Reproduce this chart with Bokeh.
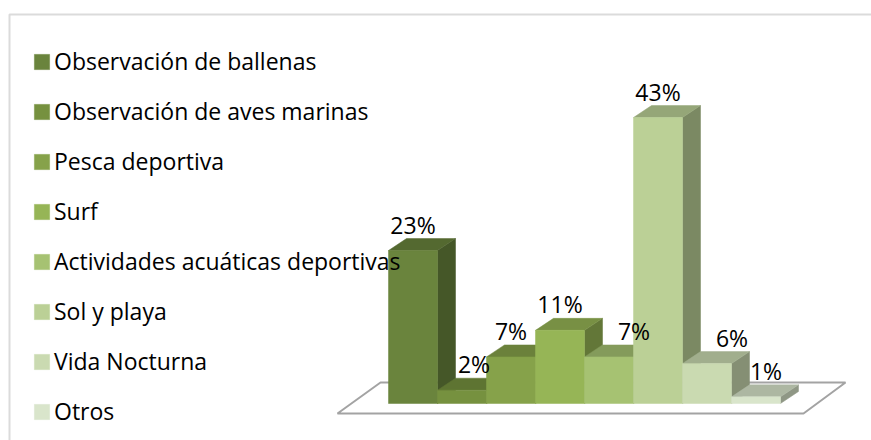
from bokeh.plotting import figure
from bokeh.models import Range1d, Legend, LegendItem, BoxAnnotation, ColumnDataSource
from bokeh.embed import file_html
from bokeh.resources import INLINE
from bokeh.core.properties import value

# ---- data ----
categories = ["Observación de ballenas", "Observación de aves marinas", "Pesca deportiva",
              "Surf", "Actividades acuáticas deportivas", "Sol y playa", "Vida Nocturna", "Otros"]
percentages = [23, 2, 7, 11, 7, 43, 6, 1]
labels = ["23%", "2%", "7%", "11%", "7%", "43%", "6%", "1%"]
front_colors = ["#6a843d", "#76913f", "#86a24a", "#96b556", "#a6c272", "#bbd096", "#cadab1", "#d9e5cb"]

# ---- geometry / style ----
W, H = 871, 440
PX_X = 49.0        # pixels per bar
PX_Y = 6.65        # pixels per percent
X0 = 388.0         # px of first bar
BASE = 37.0        # px of bar base from bottom
DX = 18.0 / PX_X   # depth offset (bar units)
DY = 12.0 / PX_Y   # depth offset (percent units)
label_nudge_px = [0, 12, 0, 0, 25, 0, 25, 10]
FONT = "Open Sans"
FS = "23px"


def shade(hexcol, f):
    h = hexcol.lstrip("#")
    r, g, b = (int(h[i:i + 2], 16) for i in (0, 2, 4))
    return "#%02x%02x%02x" % (int(r * f), int(g * f), int(b * f))


p = figure(width=W, height=H, output_backend="svg", toolbar_location=None,
           x_range=Range1d(-X0 / PX_X, (W - X0) / PX_X),
           y_range=Range1d(-BASE / PX_Y, (H - BASE) / PX_Y),
           min_border=0, outline_line_color=None)
p.axis.visible = False
p.grid.visible = False
p.background_fill_color = "white"
p.border_fill_color = "white"

n = len(percentages)

# floor
fl_front_y = -10.0 / PX_Y
fl_back_y = 21.0 / PX_Y
p.patch([-51.0 / PX_X, n + 23.0 / PX_X, n + 65.0 / PX_X, -8.0 / PX_X],
        [fl_front_y, fl_front_y, fl_back_y, fl_back_y],
        fill_color="white", line_color="#a3a3a3", line_width=2)

# faces
side_xs, side_ys, side_c = [], [], []
top_xs, top_ys, top_c = [], [], []
for i, v in enumerate(percentages):
    side_xs.append([i + 1, i + 1 + DX, i + 1 + DX, i + 1])
    side_ys.append([0, DY, v + DY, v])
    side_c.append(shade(front_colors[i], 0.66))
    top_xs.append([i, i + 1, i + 1 + DX, i + DX])
    top_ys.append([v, v, v + DY, v + DY])
    top_c.append(shade(front_colors[i], 0.80))

p.patches(side_xs, side_ys, fill_color=side_c, line_color=side_c, line_width=0.5)
p.patches(top_xs, top_ys, fill_color=top_c, line_color=top_c, line_width=0.5)

src = ColumnDataSource(dict(
    left=list(range(n)), right=[i + 1 for i in range(n)],
    bottom=[0] * n, top=percentages, color=front_colors))
fronts = p.quad(left="left", right="right", bottom="bottom", top="top", source=src,
                fill_color="color", line_color="color", line_width=0.5)

# value labels
lsrc = ColumnDataSource(dict(
    x=[i + 0.5 + label_nudge_px[i] / PX_X for i in range(n)],
    y=[v + DY + 14.0 / PX_Y for v in percentages],
    t=labels))
p.text(x="x", y="y", text="t", source=lsrc, text_font=value(FONT), text_font_size=value(FS),
       text_align="center", text_baseline="middle", text_color="black")

# legend
items = [LegendItem(label=c, renderers=[fronts], index=i) for i, c in enumerate(categories)]
legend = Legend(items=items, location=(32, 13), glyph_width=19, glyph_height=19,
                label_standoff=3, spacing=18, padding=0, margin=0,
                label_text_font=FONT, label_text_font_size=FS, label_text_color="black",
                border_line_alpha=0, background_fill_alpha=0)
p.add_layout(legend, "center")

# chart frame
p.add_layout(BoxAnnotation(left=9, right=W + 20, top=426, bottom=-20,
                           left_units="screen", right_units="screen",
                           top_units="screen", bottom_units="screen",
                           fill_alpha=0, line_color="#878787", line_width=2))

open("out.html", "w").write(file_html(p, INLINE))
